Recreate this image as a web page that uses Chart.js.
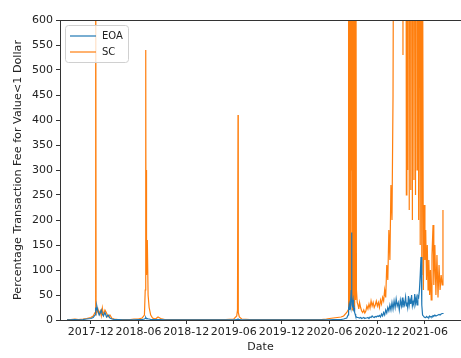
<!DOCTYPE html>
<html>
<head>
<meta charset="utf-8">
<script src="https://cdn.jsdelivr.net/npm/chart.js@4"></script>
<style>
  html, body { margin: 0; padding: 0; background: #fff; }
  #wrap { width: 461px; height: 358px; }
</style>
</head>
<body>
<div id="wrap"><canvas id="feeChart" width="461" height="358"></canvas></div>
<script>
// dates of the samples
const dates = [
  '2017-09-01', '2017-09-15', '2017-10-01', '2017-10-15', '2017-11-01', '2017-11-15', '2017-12-01', '2017-12-10',
  '2017-12-17', '2017-12-19', '2017-12-20', '2017-12-21', '2017-12-24', '2017-12-28', '2018-01-02', '2018-01-06',
  '2018-01-10', '2018-01-14', '2018-01-18', '2018-01-24', '2018-01-30', '2018-02-05', '2018-02-12', '2018-02-20',
  '2018-03-01', '2018-03-15', '2018-04-01', '2018-04-15', '2018-05-01', '2018-05-15', '2018-06-01', '2018-06-15',
  '2018-06-24', '2018-06-27', '2018-06-29', '2018-06-30', '2018-07-01', '2018-07-03', '2018-07-05', '2018-07-08',
  '2018-07-12', '2018-07-18', '2018-07-25', '2018-08-05', '2018-08-15', '2018-08-25', '2018-09-10', '2018-10-01',
  '2018-11-01', '2018-12-01', '2019-01-01', '2019-02-01', '2019-03-01', '2019-04-01', '2019-05-01', '2019-06-01',
  '2019-06-12', '2019-06-15', '2019-06-17', '2019-06-18', '2019-06-22', '2019-07-01', '2019-08-01', '2019-09-01',
  '2019-10-01', '2019-11-01', '2019-12-01', '2020-01-01', '2020-02-01', '2020-03-01', '2020-04-01', '2020-05-01',
  '2020-05-20', '2020-06-01', '2020-06-15', '2020-07-01', '2020-07-15', '2020-07-25', '2020-08-06', '2020-08-11',
  '2020-08-12', '2020-08-13', '2020-08-14', '2020-08-15', '2020-08-16', '2020-08-17', '2020-08-18', '2020-08-19',
  '2020-08-20', '2020-08-21', '2020-08-22', '2020-08-23', '2020-08-24', '2020-08-25', '2020-08-26', '2020-08-27',
  '2020-08-28', '2020-08-29', '2020-08-30', '2020-08-31', '2020-09-01', '2020-09-02', '2020-09-03', '2020-09-04',
  '2020-09-05', '2020-09-06', '2020-09-07', '2020-09-08', '2020-09-10', '2020-09-12', '2020-09-15', '2020-09-18',
  '2020-09-21', '2020-09-24', '2020-09-28', '2020-10-02', '2020-10-06', '2020-10-10', '2020-10-14', '2020-10-18',
  '2020-10-22', '2020-10-26', '2020-10-30', '2020-11-03', '2020-11-07', '2020-11-11', '2020-11-15', '2020-11-19',
  '2020-11-23', '2020-11-27', '2020-12-01', '2020-12-05', '2020-12-09', '2020-12-13', '2020-12-17', '2020-12-21',
  '2020-12-25', '2020-12-29', '2021-01-02', '2021-01-06', '2021-01-10', '2021-01-14', '2021-01-18', '2021-01-22',
  '2021-01-26', '2021-01-30', '2021-02-03', '2021-02-07', '2021-02-11', '2021-02-15', '2021-02-19', '2021-02-23',
  '2021-02-27', '2021-03-03', '2021-03-07', '2021-03-09', '2021-03-11', '2021-03-15', '2021-03-19', '2021-03-22',
  '2021-03-24', '2021-03-27', '2021-03-30', '2021-04-02', '2021-04-05', '2021-04-08', '2021-04-11', '2021-04-14',
  '2021-04-17', '2021-04-20', '2021-04-23', '2021-04-26', '2021-04-29', '2021-05-02', '2021-05-05', '2021-05-08',
  '2021-05-11', '2021-05-14', '2021-05-17', '2021-05-20', '2021-05-23', '2021-05-26', '2021-05-29', '2021-06-01',
  '2021-06-04', '2021-06-07', '2021-06-10', '2021-06-13', '2021-06-16', '2021-06-19', '2021-06-22', '2021-06-25',
  '2021-06-28', '2021-07-02', '2021-07-05', '2021-07-09', '2021-07-13', '2021-07-17', '2021-07-21', '2021-07-25',
  '2021-07-29', '2021-08-02', '2021-08-06', '2021-08-09'
];

// EOA series
const eoaValues = [
  0.5, 0.5, 1, 0.5, 1, 2, 3, 5,
  10, 22, 25, 20, 28, 18, 10, 14,
  20, 12, 8, 15, 6, 10, 4, 2,
  1, 1, 0.5, 0.5, 0.5, 0.5, 1, 1,
  2, 3, 5, 4, 4, 3, 3, 2,
  2, 1, 1, 1, 1, 1, 0.5, 0.5,
  0.5, 0.5, 0.5, 0.5, 0.5, 0.5, 0.5, 0.5,
  1, 1, 2, 1, 1, 0.5, 0.5, 0.5,
  0.5, 0.5, 0.5, 0.5, 0.5, 0.5, 0.5, 0.5,
  0.5, 0.5, 1, 1, 1, 2, 4, 10,
  20, 25, 22, 30, 25, 28, 20, 30,
  35, 25, 40, 60, 90, 175, 40, 30,
  25, 35, 40, 25, 30, 22, 25, 20,
  18, 15, 12, 10, 8, 6, 5, 5,
  5, 4, 5, 3, 4, 5, 3, 4,
  4, 5, 3, 6, 5, 8, 6, 5,
  7, 6, 8, 7, 9, 6, 12, 8,
  15, 10, 20, 14, 25, 18, 30, 20,
  35, 22, 38, 25, 42, 28, 35, 20,
  40, 28, 45, 25, 38, 30, 46, 28,
  35, 25, 48, 30, 40, 32, 50, 28,
  36, 30, 52, 34, 44, 30, 48, 45,
  60, 90, 126, 30, 10, 8, 6, 5,
  5, 7, 5, 6, 5, 8, 6, 7,
  6, 9, 8, 10, 8, 9, 10, 11,
  10, 12, 13, 14
];

// SC series
const scValues = [
  1, 1, 2, 1, 2, 3, 5, 8,
  15, 20, 950, 25, 15, 22, 12, 18,
  8, 24, 10, 20, 14, 6, 10, 3,
  2, 1, 1, 1, 1, 2, 2, 4,
  10, 60, 540, 120, 300, 90, 160, 50,
  25, 10, 4, 2, 6, 3, 1, 1,
  1, 1, 1, 1, 1, 1, 1, 2,
  8, 20, 410, 15, 6, 2, 1, 1,
  1, 1, 1, 1, 1, 1, 1, 1,
  2, 3, 4, 5, 6, 8, 15, 20,
  1800, 30, 2200, 25, 2500, 40, 3000, 30,
  2000, 60, 1600, 300, 900, 400, 700, 20,
  2600, 30, 2400, 25, 2800, 35, 2000, 30,
  2500, 25, 1900, 40, 1200, 60, 35, 30,
  22, 35, 25, 18, 15, 20, 14, 18,
  28, 22, 32, 24, 38, 28, 35, 25,
  30, 38, 28, 35, 25, 40, 32, 45,
  38, 60, 45, 110, 80, 180, 120, 270,
  200, 450, 1200, 2000, 1800, 2500, 1500, 2200,
  1900, 1600, 2400, 530, 2000, 2600, 1800, 250,
  2200, 300, 2500, 220, 2000, 260, 2400, 200,
  2200, 280, 1800, 250, 2600, 300, 2000, 200,
  1500, 150, 1200, 90, 800, 60, 230, 120,
  180, 80, 150, 60, 120, 50, 100, 40,
  130, 190, 70, 150, 50, 130, 45, 110,
  60, 90, 70, 220
];

const yTicks = [0, 50, 100, 150, 200, 250, 300, 350, 400, 450, 500, 550, 600];
const xTickLabels = ['2017-12', '2018-06', '2018-12', '2019-06', '2019-12', '2020-06', '2020-12', '2021-06'];

const toTime = (d) => Date.parse(d + 'T00:00:00Z');
const eoaPoints = dates.map((d, i) => ({ x: toTime(d), y: eoaValues[i] }));
const scPoints = dates.map((d, i) => ({ x: toTime(d), y: scValues[i] }));

const FONT = 'DejaVu Sans';

// top spine, y label and a matplotlib-like legend inside the plot
const framePlugin = {
  id: 'frame',
  afterDraw(chart) {
    const { ctx, chartArea } = chart;
    ctx.save();
    ctx.strokeStyle = '#333';
    ctx.lineWidth = 1;
    ctx.beginPath();
    ctx.moveTo(chartArea.left, chartArea.top + 0.5);
    ctx.lineTo(chartArea.right, chartArea.top + 0.5);
    ctx.stroke();

    // y axis label
    ctx.save();
    ctx.translate(18, (chartArea.top + chartArea.bottom) / 2);
    ctx.rotate(-Math.PI / 2);
    ctx.font = '11.2px "' + FONT + '"';
    ctx.fillStyle = '#222';
    ctx.textAlign = 'center';
    ctx.textBaseline = 'middle';
    ctx.fillText('Percentage Transaction Fee for Value<1 Dollar', 0, 0);
    ctx.restore();

    // legend box
    const bx = chartArea.left + 5, by = chartArea.top + 5, bw = 63, bh = 37;
    ctx.fillStyle = 'rgba(255,255,255,0.8)';
    ctx.strokeStyle = '#d0d0d0';
    ctx.beginPath();
    ctx.roundRect(bx + 0.5, by + 0.5, bw, bh, 3);
    ctx.fill();
    ctx.stroke();

    const items = [['EOA', '#1f77b4'], ['SC', '#ff7f0e']];
    ctx.font = '10px "' + FONT + '"';
    ctx.textBaseline = 'middle';
    items.forEach(([label, color], i) => {
      const yy = by + 11 + i * 16;
      ctx.strokeStyle = color;
      ctx.lineWidth = 1.2;
      ctx.beginPath();
      ctx.moveTo(bx + 5, yy);
      ctx.lineTo(bx + 31, yy);
      ctx.stroke();
      ctx.fillStyle = '#222';
      ctx.fillText(label, bx + 37, yy);
    });
    ctx.restore();
  }
};

const ctx = document.getElementById('feeChart').getContext('2d');
const feeChart = new Chart(ctx, {
  type: 'line',
  data: {
    datasets: [
      {
        label: 'EOA',
        data: eoaPoints,
        borderColor: '#1f77b4',
        borderWidth: 1.2,
        pointRadius: 0,
        tension: 0
      },
      {
        label: 'SC',
        data: scPoints,
        borderColor: '#ff7f0e',
        borderWidth: 1.2,
        pointRadius: 0,
        tension: 0
      }
    ]
  },
  options: {
    responsive: false,
    animation: false,
    layout: { padding: { top: 20, right: 0, left: 0, bottom: 4 } },
    plugins: {
      legend: { display: false },
      tooltip: { enabled: false }
    },
    scales: {
      x: {
        type: 'linear',
        min: toTime('2017-08-05'),
        max: toTime('2021-10-17'),
        afterBuildTicks(scale) {
          scale.ticks = xTickLabels.map(t => ({ value: toTime(t + '-01') }));
        },
        afterFit(scale) { scale.height = 34; },
        ticks: {
          autoSkip: false,
          maxRotation: 0,
          color: '#222',
          padding: 2,
          font: { family: FONT, size: 11 },
          callback(value) {
            const d = new Date(value);
            return d.getUTCFullYear() + '-' + String(d.getUTCMonth() + 1).padStart(2, '0');
          }
        },
        grid: { drawOnChartArea: false, tickLength: 4, tickColor: '#333' },
        border: { color: '#333', width: 1 },
        title: {
          display: true,
          text: 'Date',
          color: '#222',
          padding: { top: 0, bottom: 0 },
          font: { family: FONT, size: 11 }
        }
      },
      y: {
        min: 0,
        max: 600,
        afterBuildTicks(scale) {
          scale.ticks = yTicks.map(v => ({ value: v }));
        },
        afterFit(scale) { scale.width = 60; },
        ticks: {
          color: '#222',
          padding: 3,
          font: { family: FONT, size: 11 }
        },
        grid: { drawOnChartArea: false, tickLength: 4, tickColor: '#333' },
        border: { color: '#333', width: 1 }
      }
    }
  },
  plugins: [framePlugin]
});
</script>
</body>
</html>
